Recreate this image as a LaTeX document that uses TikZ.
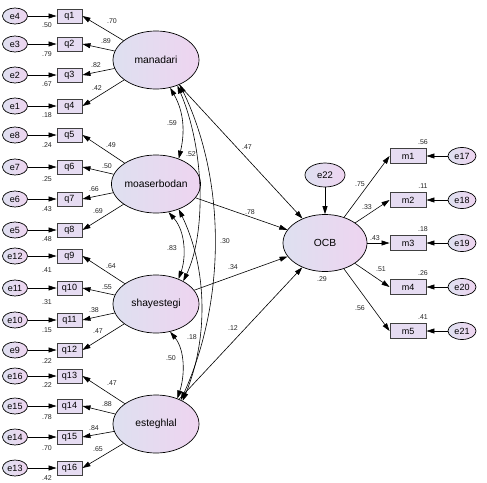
\documentclass[tikz,border=0pt]{standalone}
\usepackage{fontspec}
\setmainfont{Liberation Sans}
\usetikzlibrary{arrows.meta,shapes.geometric}
\definecolor{lL}{RGB}{222,224,240}
\definecolor{lR}{RGB}{238,212,240}
\definecolor{bx}{RGB}{230,220,242}
\tikzset{
  lat/.style={ellipse, draw=black, line width=0.7pt, minimum width=86pt, minimum height=58pt, inner sep=0pt, left color=lL, right color=lR, font=\fontsize{10.3}{11}\selectfont},
  err/.style={ellipse, draw=black, line width=0.7pt, minimum width=25pt, minimum height=16pt, inner sep=0pt, left color=lL, right color=lR, font=\fontsize{9}{9}\selectfont},
  errr/.style={err, minimum width=28pt, minimum height=17pt},
  obs/.style={rectangle, draw=black!75, line width=0.9pt, minimum width=25pt, minimum height=14pt, inner sep=0pt, fill=bx, font=\fontsize{9}{9}\selectfont},
  obsr/.style={obs, minimum width=36pt, minimum height=15pt},
  num/.style={font=\fontsize{7}{7}\selectfont, inner sep=0pt, text=black!85},
  arr/.style={-{Triangle[length=8pt,width=5pt]}, line width=0.6pt},
  cov/.style={{Triangle[length=8pt,width=5pt]}-{Triangle[length=8pt,width=5pt]}, line width=0.6pt},
}
\begin{document}
\begin{tikzpicture}[x=1pt,y=-1pt]
\useasboundingbox (0,0) rectangle (487,482);
% latent variables
\node[lat] (manadari) at (156,60) {manadari};
\node[lat] (moaserbodan) at (156,184) {moaserbodan};
\node[lat] (shayestegi) at (156,304) {shayestegi};
\node[lat] (esteghlal) at (156,424) {esteghlal};
\node[lat, minimum width=84pt, minimum height=57pt] (OCB) at (325,243) {OCB};
\node[err, minimum width=40pt, minimum height=24pt, font=\fontsize{9.5}{9.5}\selectfont] (e22) at (325,175) {e22};
% left indicators
\foreach \q/\e/\y/\s/\sy/\lat/\w/\lx/\ly in {
1/4/16/.50/25/manadari/.70/112/21,
2/3/44/.79/54/manadari/.89/106/41,
3/2/75/.67/84/manadari/.82/96/65,
4/1/106/.18/115/manadari/.42/97/88,
5/8/135/.24/145/moaserbodan/.49/111/145,
6/7/167/.25/179/moaserbodan/.50/107/166,
7/6/199/.43/209/moaserbodan/.66/94/189,
8/5/230/.48/239/moaserbodan/.69/98/211,
9/12/256/.41/270/shayestegi/.64/111/266,
10/11/288/.31/302/shayestegi/.55/107/287,
11/10/320/.15/330/shayestegi/.38/94/310,
12/9/350/.22/361/shayestegi/.47/98/331,
13/16/376/.22/385/esteghlal/.47/112/383,
14/15/406/.78/417/esteghlal/.88/107/404,
15/14/437/.70/448/esteghlal/.84/94/428,
16/13/468/.42/478/esteghlal/.65/98/449}{
  \node[obs] (q\q) at (69.5,\y) {q\q};
  \node[err] (e\e) at (15,\y) {e\e};
  \draw[arr] (e\e) -- (q\q);
  \draw[arr] (\lat) -- (q\q.east);
  \node[num] (s\q) at (47,\sy) {\s};
  \node[num] (w\q) at (\lx,\ly) {\w};
}
% right indicators
\foreach \m/\e/\y/\s/\w/\lx/\ly in {
1/17/156/.56/.75/360/184,
2/18/200/.11/.33/367/207,
3/19/243/.18/.43/375/238,
4/20/287/.26/.51/381/269,
5/21/331/.41/.56/360/308}{
  \node[obsr] (m\m) at (408,\y) {m\m};
  \node[errr] (e\e) at (462,\y) {e\e};
  \draw[arr] (e\e) -- (m\m);
  \draw[arr] (OCB) -- (m\m.west);
  \node[num] (sm\m) at (423,\y-14) {\s};
  \node[num] (wm\m) at (\lx,\ly) {\w};
}
% structural paths
\draw[arr] (e22) -- (OCB);
\draw[arr] (manadari) -- (OCB);
\draw[arr] (moaserbodan) -- (OCB);
\draw[arr] (shayestegi) -- (OCB);
\draw[arr] (esteghlal) -- (OCB);
% covariances
\draw[cov] (manadari.-63) .. controls (184,112) and (185,132) .. (moaserbodan.48);
\draw[cov] (manadari.-50) .. controls (205,150) and (206,234) .. (shayestegi.40);
\draw[cov] (manadari.-46) .. controls (226,180) and (226,300) .. (esteghlal.44);
\draw[cov] (moaserbodan.-66) .. controls (186,232) and (186,258) .. (shayestegi.48);
\draw[cov] (moaserbodan.-48) .. controls (208,270) and (208,340) .. (esteghlal.41);
\draw[cov] (shayestegi.-63) .. controls (185,350) and (185,375) .. (esteghlal.50);
% path labels
\node[num] (c1) at (172,123) {.59};
\node[num] (c2) at (191,154) {.52};
\node[num] (c3) at (225,241) {.30};
\node[num] (c4) at (172,248) {.83};
\node[num] (c5) at (192,337) {.18};
\node[num] (c6) at (171,358) {.50};
\node[num] (p1) at (247,147) {.47};
\node[num] (p2) at (250,212) {.78};
\node[num] (p3) at (233,267) {.34};
\node[num] (p4) at (233,328) {.12};
\node[num] (r2) at (322,279) {.29};
\end{tikzpicture}
\end{document}
